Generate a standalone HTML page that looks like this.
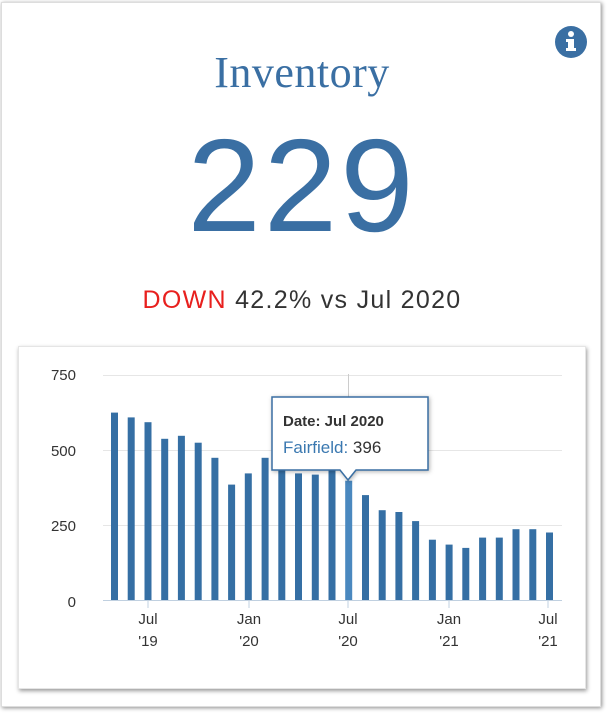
<!DOCTYPE html>
<html><head><style>
body{margin:0;width:610px;height:715px;background:#fff;overflow:hidden;font-family:"Liberation Sans",sans-serif;}
.card{position:absolute;left:1px;top:2px;width:598px;height:703px;background:#fff;box-shadow:1px 1px 4px rgba(0,0,0,.45);border:1px solid #ddd;}
.t{position:absolute;left:0;width:604px;text-align:center;color:#3a6fa3;}
</style></head><body>
<div class="card"></div>
<div class="t" style="top:47px;font-family:'Liberation Serif',serif;font-size:44px;letter-spacing:0.5px">Inventory</div>
<div class="t" style="top:116px;font-size:132px;line-height:140px;letter-spacing:3px;font-weight:300">229</div>
<div class="t" style="top:286px;font-size:25px;color:#333;letter-spacing:1.3px"><span style="color:#e8201e">DOWN</span> 42.2% vs Jul 2020</div>
<svg style="position:absolute;left:555px;top:26px" width="34" height="34"><circle cx="16" cy="16" r="16" fill="#3a6fa3"/><circle cx="16" cy="8" r="3" fill="#fff"/><path d="M11 13h8v9h2v3H11v-3h2v-6h-2z" fill="#fff"/></svg>
<div style="position:absolute;left:18px;top:346px;width:566px;height:341px;background:#fff;box-shadow:1px 2px 4px rgba(0,0,0,.4);border:1px solid #e5e5e5"></div>
<svg style="position:absolute;left:0;top:0" width="610" height="715" font-family="Liberation Sans, sans-serif">
<g stroke="#e6e6e6" stroke-width="1"><line x1="103" y1="375.5" x2="562" y2="375.5"/><line x1="103" y1="450.5" x2="562" y2="450.5"/><line x1="103" y1="525.5" x2="562" y2="525.5"/></g>
<line x1="348.5" y1="374" x2="348.5" y2="600" stroke="#ccc"/>
<g fill="#333" font-size="15" text-anchor="end"><text x="76" y="380">750</text><text x="76" y="456">500</text><text x="76" y="531">250</text><text x="76" y="607">0</text></g>
<g id="bars" fill="#356fa4"></g>
<line x1="103" y1="600.5" x2="562" y2="600.5" stroke="#c0d0e0"/>
<g stroke="#c0d0e0"><line x1="148" y1="600" x2="148" y2="608"/><line x1="249" y1="600" x2="249" y2="608"/><line x1="348" y1="600" x2="348" y2="608"/><line x1="449" y1="600" x2="449" y2="608"/><line x1="548" y1="600" x2="548" y2="608"/></g>
<g fill="#333" font-size="15" text-anchor="middle">
<text x="148" y="624">Jul</text><text x="148" y="646">'19</text>
<text x="249" y="624">Jan</text><text x="249" y="646">'20</text>
<text x="348" y="624">Jul</text><text x="348" y="646">'20</text>
<text x="449" y="624">Jan</text><text x="449" y="646">'21</text>
<text x="548" y="624">Jul</text><text x="548" y="646">'21</text></g>
<path d="M272 397h156v73h-72l-8 10-8-10h-68z" fill="#fff" stroke="#3a6fa3" stroke-width="1.5" style="filter:drop-shadow(1px 1px 2px rgba(0,0,0,.3))"/>
<text x="283" y="426" font-size="15" font-weight="bold" fill="#333">Date: Jul 2020</text>
<text x="283" y="453" font-size="17" fill="#333"><tspan fill="#3a78b0">Fairfield:</tspan> 396</text>
</svg>
<script>
var v=[622,606,590,535,545,522,472,383,420,472,450,420,416,440,396,348,298,292,262,200,184,173,207,207,235,235,224];
var g=document.getElementById('bars'),s='';
v.forEach(function(d,i){var x=114.5+i*16.73-3.5,h=d/750*226;
s+='<rect x="'+x.toFixed(1)+'" y="'+(600-h).toFixed(1)+'" width="7" height="'+h.toFixed(1)+'"'+(i==14?' fill="#4a88bf"':'')+'/>';});
g.innerHTML=s;
</script>
</body></html>
